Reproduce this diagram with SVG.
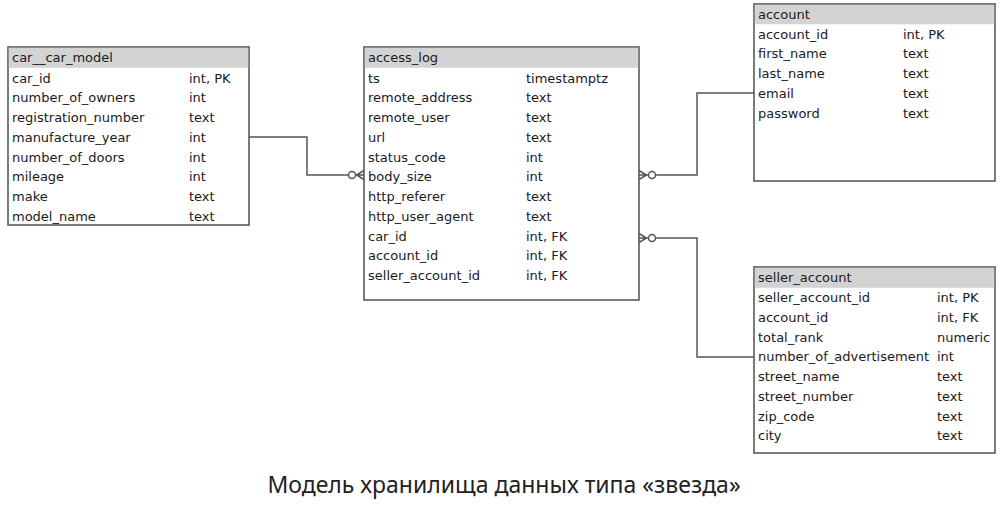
<svg xmlns="http://www.w3.org/2000/svg" width="1001" height="507" viewBox="0 0 1001 507">
<style>
.box{fill:#fff;stroke:#5a5a5a;stroke-width:1.6}
.hdr{fill:#d3d3d3}
.t{font-family:"DejaVu Sans",Verdana,sans-serif;font-size:13px;fill:#1a1a1a}
.c{fill:none;stroke:#555;stroke-width:1.5}
.cap{font-family:"Noto Sans","Open Sans",sans-serif;font-size:23px;fill:#222}
</style>
<rect width="1001" height="507" fill="#fff"/>
<g id="car__car_model">
<rect class="box" x="8" y="47" width="241" height="178"/>
<rect class="hdr" x="8.8" y="47.8" width="239.4" height="20"/>
<g class="t">
<text x="12" y="62">car__car_model</text>
<text x="12" y="82.5">car_id</text><text x="189" y="82.5">int, PK</text>
<text x="12" y="102.2">number_of_owners</text><text x="189" y="102.2">int</text>
<text x="12" y="122">registration_number</text><text x="189" y="122">text</text>
<text x="12" y="141.7">manufacture_year</text><text x="189" y="141.7">int</text>
<text x="12" y="161.5">number_of_doors</text><text x="189" y="161.5">int</text>
<text x="12" y="181.2">mileage</text><text x="189" y="181.2">int</text>
<text x="12" y="201">make</text><text x="189" y="201">text</text>
<text x="12" y="220.7">model_name</text><text x="189" y="220.7">text</text>
</g>
</g>
<g id="access_log">
<rect class="box" x="364" y="47" width="275" height="253"/>
<rect class="hdr" x="364.8" y="47.8" width="273.4" height="20"/>
<g class="t">
<text x="368" y="62">access_log</text>
<text x="368" y="82.5">ts</text><text x="526" y="82.5">timestamptz</text>
<text x="368" y="102.2">remote_address</text><text x="526" y="102.2">text</text>
<text x="368" y="122">remote_user</text><text x="526" y="122">text</text>
<text x="368" y="141.7">url</text><text x="526" y="141.7">text</text>
<text x="368" y="161.5">status_code</text><text x="526" y="161.5">int</text>
<text x="368" y="181.2">body_size</text><text x="526" y="181.2">int</text>
<text x="368" y="201">http_referer</text><text x="526" y="201">text</text>
<text x="368" y="220.7">http_user_agent</text><text x="526" y="220.7">text</text>
<text x="368" y="240.5">car_id</text><text x="526" y="240.5">int, FK</text>
<text x="368" y="260.2">account_id</text><text x="526" y="260.2">int, FK</text>
<text x="368" y="280">seller_account_id</text><text x="526" y="280">int, FK</text>
</g>
</g>
<g id="account">
<rect class="box" x="754" y="4" width="241" height="177"/>
<rect class="hdr" x="754.8" y="4.8" width="239.4" height="19.5"/>
<g class="t">
<text x="758" y="18.5">account</text>
<text x="758" y="38.5">account_id</text><text x="903" y="38.5">int, PK</text>
<text x="758" y="58.2">first_name</text><text x="903" y="58.2">text</text>
<text x="758" y="78">last_name</text><text x="903" y="78">text</text>
<text x="758" y="97.7">email</text><text x="903" y="97.7">text</text>
<text x="758" y="117.5">password</text><text x="903" y="117.5">text</text>
</g>
</g>
<g id="seller_account">
<rect class="box" x="754" y="267" width="241" height="186"/>
<rect class="hdr" x="754.8" y="267.8" width="239.4" height="20"/>
<g class="t">
<text x="758" y="282">seller_account</text>
<text x="758" y="302">seller_account_id</text><text x="937" y="302">int, PK</text>
<text x="758" y="321.7">account_id</text><text x="937" y="321.7">int, FK</text>
<text x="758" y="341.5">total_rank</text><text x="937" y="341.5">numeric</text>
<text x="758" y="361.2">number_of_advertisement</text><text x="937" y="361.2">int</text>
<text x="758" y="381">street_name</text><text x="937" y="381">text</text>
<text x="758" y="400.7">street_number</text><text x="937" y="400.7">text</text>
<text x="758" y="420.5">zip_code</text><text x="937" y="420.5">text</text>
<text x="758" y="440.2">city</text><text x="937" y="440.2">text</text>
</g>
</g>
<g id="connectors" class="c">
<path d="M249 137H307V175H348.5"/>
<circle cx="352" cy="175" r="3.5"/>
<path d="M364 175H355.5M364 170.5L356.5 175L364 179.5"/>
<path d="M754 93H697V175H655.5"/>
<circle cx="652" cy="175" r="3.5"/>
<path d="M639 175H648.5M639 170.5L646.5 175L639 179.5"/>
<path d="M754 357H697V238H655.5"/>
<circle cx="652" cy="238" r="3.5"/>
<path d="M639 238H648.5M639 233.5L646.5 238L639 242.5"/>
</g>
<text class="cap" x="504" y="493" text-anchor="middle">Модель хранилища данных типа «звезда»</text>
</svg>
